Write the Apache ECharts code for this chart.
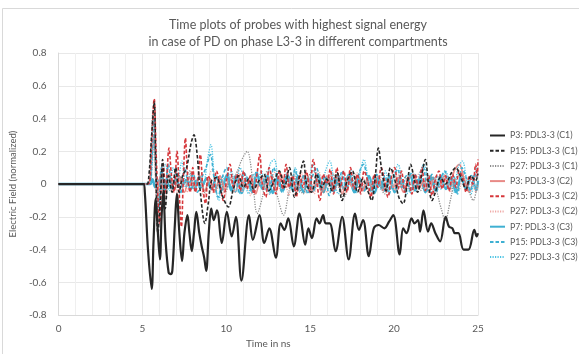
<!DOCTYPE html>
<html>
<head>
<meta charset="utf-8">
<script src="https://cdn.jsdelivr.net/npm/echarts@6/dist/echarts.min.js"></script>
<style>html,body{margin:0;padding:0;background:#fff}#c{width:579px;height:354px}</style>
</head>
<body>
<div id="c"></div>
<script>
const titleLines = ['Time plots of probes with highest signal energy', 'in case of PD on phase L3-3 in different compartments'];
const xName = 'Time in ns';
const yName = 'Electric Field (normalized)';
const names = ['P3: PDL3-3 (C1)','P15: PDL3-3 (C1)','P27: PDL3-3 (C1)','P3: PDL3-3 (C2)','P15: PDL3-3 (C2)','P27: PDL3-3 (C2)','P7: PDL3-3 (C3)','P15: PDL3-3 (C3)','P27: PDL3-3 (C3)'];

const p3c1 = [[0,0],[5.05,0],[5.14,-0.05],[5.33,-0.4],[5.55,-0.64],[5.66,-0.35],[5.79,-0.09],[5.92,-0.3],[6.04,-0.46],[6.14,-0.2],[6.24,-0.04],[6.38,-0.35],[6.56,-0.54],[6.68,-0.55],[6.78,-0.53],[6.93,-0.25],[7.05,-0.06],[7.2,-0.3],[7.36,-0.47],[7.5,-0.3],[7.68,-0.19],[7.8,-0.3],[7.94,-0.41],[8.07,-0.3],[8.21,-0.17],[8.39,-0.3],[8.53,-0.38],[8.68,-0.45],[8.8,-0.53],[8.95,-0.3],[9.1,-0.15],[9.25,-0.22],[9.44,-0.16],[9.73,-0.36],[10.03,-0.17],[10.32,-0.32],[10.57,-0.2],[10.9,-0.59],[11.35,-0.19],[11.58,-0.34],[11.98,-0.19],[12.26,-0.36],[12.56,-0.27],[12.95,-0.45],[13.24,-0.24],[13.46,-0.28],[13.69,-0.21],[14.02,-0.38],[14.36,-0.18],[14.7,-0.37],[14.89,-0.27],[15.1,-0.33],[15.38,-0.21],[15.55,-0.24],[15.77,-0.19],[15.92,-0.24],[16.16,-0.24],[16.51,-0.41],[16.9,-0.2],[17.29,-0.46],[17.67,-0.18],[17.9,-0.28],[18.15,-0.22],[18.49,-0.44],[18.79,-0.27],[19.07,-0.25],[19.42,-0.27],[19.7,-0.23],[19.95,-0.19],[20.33,-0.43],[20.54,-0.27],[20.74,-0.3],[21.04,-0.21],[21.22,-0.24],[21.42,-0.22],[21.55,-0.29],[21.75,-0.16],[22.02,-0.29],[22.21,-0.24],[22.46,-0.3],[22.74,-0.35],[23.07,-0.2],[23.27,-0.26],[23.47,-0.27],[23.62,-0.3],[23.83,-0.3],[24.14,-0.4],[24.43,-0.4],[24.78,-0.28],[24.92,-0.32],[25,-0.3]];
const p15c1 = [[0,0],[5.25,0],[5.38,0.05],[5.55,0.3],[5.7,0.5],[5.8,0.1],[5.92,-0.3],[6.06,-0.1],[6.2,0.15],[6.36,-0.15],[6.56,0.05],[6.76,-0.05],[6.98,0.1],[7.18,-0.05],[7.39,0.05],[7.63,0.1],[7.9,0.25],[8.07,0.3],[8.24,0.2],[8.45,-0.05],[8.72,-0.24],[8.92,-0.12],[9.12,0.02],[9.42,0.04],[9.72,-0.06],[10.12,-0.14],[10.42,-0.03],[10.73,0.05],[11.02,-0.02],[11.33,0.03],[11.63,-0.03],[11.94,0.02],[12.24,0.06],[12.54,-0.04],[12.85,0.02],[13.15,0.08],[13.46,-0.02],[13.76,0.1],[14.06,-0.08],[14.37,0.05],[14.6,0.14],[14.78,0.0],[15.08,-0.05],[15.38,0.06],[15.68,-0.02],[15.98,0.03],[16.29,-0.04],[16.6,0.07],[16.9,-0.1],[17.2,0.02],[17.52,0.08],[17.82,-0.05],[18.12,0.03],[18.42,-0.04],[18.66,-0.1],[18.88,0.05],[19.06,0.22],[19.27,0.08],[19.52,-0.04],[19.78,0.1],[20.03,0.03],[20.28,-0.08],[20.53,-0.12],[20.78,0.0],[20.98,0.12],[21.2,0.03],[21.4,-0.05],[21.65,0.06],[21.86,0.15],[22.05,0.0],[22.26,-0.1],[22.46,-0.05],[22.76,0.04],[23.06,0.0],[23.37,0.06],[23.67,0.1],[23.98,0.04],[24.28,-0.03],[24.58,0.05],[24.85,0.02],[25,0.06]];
const p27c1 = [[0,0],[5.32,0],[5.45,0.1],[5.63,0.45],[5.75,0.15],[5.88,-0.2],[6.02,-0.05],[6.18,0.1],[6.38,-0.1],[6.58,0.05],[6.88,-0.03],[7.19,0.05],[7.49,0.0],[7.79,0.08],[8.1,-0.02],[8.4,0.05],[8.7,-0.05],[9.0,0.02],[9.31,-0.04],[9.61,0.03],[9.92,-0.05],[10.22,0.02],[10.53,0.05],[10.93,0.15],[11.24,0.2],[11.54,0.05],[11.84,-0.18],[12.15,-0.08],[12.45,0.08],[12.76,0.05],[13.06,-0.08],[13.41,-0.19],[13.72,-0.05],[14.02,0.06],[14.27,0.0],[14.58,-0.06],[14.88,0.04],[15.18,0.08],[15.49,0.02],[15.79,-0.05],[16.1,0.03],[16.4,0.06],[16.7,-0.02],[17.0,-0.08],[17.31,0.0],[17.61,0.05],[17.92,-0.03],[18.22,0.02],[18.52,-0.04],[18.83,0.04],[19.13,0.0],[19.43,-0.06],[19.74,0.02],[20.04,0.05],[20.35,-0.02],[20.65,0.04],[20.95,-0.03],[21.26,0.02],[21.56,-0.04],[21.87,0.02],[22.17,0.05],[22.47,-0.02],[22.78,-0.14],[23.05,-0.22],[23.35,-0.1],[23.66,0.03],[23.96,0.06],[24.2,0.02],[24.45,-0.04],[24.72,-0.1],[24.88,-0.05],[25,0.02]];
const p3c2 = [[0,0],[5.35,0],[5.55,0.15],[5.7,0.3],[5.86,-0.1],[6.06,0.05],[6.27,-0.05],[6.58,0.06],[6.88,-0.04],[7.18,0.05],[7.5,-0.05],[7.8,0.04],[8.1,-0.02],[8.4,0.05],[8.71,-0.04],[9.01,0.03],[9.31,-0.05],[9.62,0.05],[9.92,-0.03],[10.22,0.04],[10.53,-0.05],[10.84,0.06],[11.14,-0.02],[11.44,0.05],[11.75,-0.06],[12.05,0.03],[12.35,-0.03],[12.66,0.05],[12.96,-0.04],[13.27,0.06],[13.57,-0.02],[13.87,0.04],[14.17,-0.05],[14.48,0.03],[14.78,0.06],[15.08,-0.04],[15.39,0.02],[15.69,-0.05],[16.0,0.05],[16.3,-0.02],[16.6,0.04],[16.91,-0.06],[17.21,0.03],[17.51,-0.02],[17.82,0.05],[18.12,-0.04],[18.42,0.02],[18.73,-0.03],[19.03,0.05],[19.34,-0.04],[19.64,0.03],[19.94,-0.02],[20.25,0.04],[20.55,-0.05],[20.86,0.03],[21.16,0.06],[21.46,-0.03],[21.77,0.02],[22.07,-0.05],[22.37,0.04],[22.68,-0.02],[22.98,0.05],[23.28,-0.04],[23.58,0.08],[23.88,0.12],[24.18,0.03],[24.48,-0.05],[24.78,0.04],[25,0.05]];
const p15c2 = [[0,0],[5.35,0],[5.52,0.2],[5.7,0.52],[5.81,0.2],[5.93,-0.1],[6.03,-0.24],[6.13,0.0],[6.24,0.12],[6.38,-0.05],[6.58,0.22],[6.73,0.05],[6.88,-0.05],[7.06,0.2],[7.19,-0.05],[7.32,-0.26],[7.44,0.05],[7.56,0.28],[7.69,0.05],[7.84,-0.05],[8.0,0.1],[8.15,-0.05],[8.3,0.02],[8.45,0.18],[8.6,-0.02],[8.76,-0.12],[8.91,0.05],[9.06,0.02],[9.21,-0.05],[9.41,0.08],[9.62,0.0],[9.82,-0.1],[10.02,0.03],[10.22,0.12],[10.42,-0.02],[10.63,0.06],[10.83,-0.04],[11.03,0.08],[11.23,-0.03],[11.44,0.05],[11.64,-0.06],[11.84,0.07],[11.99,0.18],[12.14,0.0],[12.35,-0.08],[12.55,0.1],[12.75,0.02],[12.95,-0.06],[13.16,0.08],[13.36,-0.03],[13.56,0.12],[13.76,-0.02],[13.96,0.05],[14.17,-0.08],[14.37,0.06],[14.57,-0.02],[14.77,0.08],[14.97,-0.05],[15.18,0.15],[15.38,0.02],[15.58,-0.1],[15.78,0.06],[15.99,0.0],[16.19,0.09],[16.39,-0.06],[16.59,0.1],[16.8,-0.02],[17.0,0.08],[17.2,-0.05],[17.4,0.1],[17.61,-0.03],[17.81,0.06],[18.01,-0.06],[18.21,0.08],[18.42,0.02],[18.62,-0.08],[18.82,0.06],[19.02,-0.02],[19.23,0.1],[19.43,0.02],[19.63,-0.08],[19.83,0.04],[20.03,0.1],[20.24,-0.03],[20.44,0.08],[20.64,-0.05],[20.84,0.04],[21.05,-0.06],[21.25,0.06],[21.45,-0.02],[21.65,0.1],[21.86,-0.04],[22.06,0.05],[22.26,-0.07],[22.46,0.03],[22.67,0.08],[22.87,-0.03],[23.07,0.05],[23.27,-0.04],[23.48,0.06],[23.68,-0.02],[23.88,0.08],[24.08,0.04],[24.29,-0.05],[24.49,0.05],[24.69,0.0],[24.86,0.12],[24.95,0.05],[25,0.15]];
const p27c2 = [[0,0],[5.35,0],[5.5,0.1],[5.66,0.3],[5.82,0.05],[5.97,-0.12],[6.12,0.06],[6.33,-0.08],[6.53,0.1],[6.73,-0.04],[6.94,0.07],[7.14,-0.09],[7.39,0.04],[7.65,-0.05],[7.9,0.08],[8.15,-0.03],[8.41,0.06],[8.66,-0.08],[8.91,0.03],[9.17,0.09],[9.42,-0.04],[9.67,0.05],[9.92,-0.07],[10.18,0.03],[10.43,-0.02],[10.68,0.08],[10.94,-0.05],[11.19,0.04],[11.44,-0.07],[11.7,0.06],[11.95,-0.02],[12.2,0.05],[12.46,-0.06],[12.71,0.03],[12.96,0.08],[13.22,-0.04],[13.47,0.02],[13.72,-0.07],[13.98,0.05],[14.23,-0.02],[14.48,0.07],[14.74,-0.05],[14.99,0.03],[15.24,-0.06],[15.5,0.08],[15.75,0.0],[16.0,-0.05],[16.26,0.06],[16.51,-0.03],[16.76,0.04],[17.02,-0.07],[17.27,0.05],[17.52,-0.02],[17.78,0.07],[18.03,-0.04],[18.28,0.03],[18.54,-0.06],[18.79,0.05],[19.04,-0.02],[19.3,0.06],[19.55,-0.05],[19.8,0.03],[20.06,-0.04],[20.31,0.07],[20.56,-0.02],[20.82,0.05],[21.07,-0.06],[21.32,0.03],[21.58,0.08],[21.83,-0.03],[22.08,0.04],[22.34,-0.06],[22.59,0.05],[22.84,-0.02],[23.1,0.06],[23.35,-0.05],[23.6,0.03],[23.86,-0.04],[24.11,0.06],[24.36,-0.02],[24.62,0.05],[24.87,-0.05],[25,0.0]];
const p7c3 = [[0,0],[5.45,0],[5.6,0.03],[5.76,-0.02],[5.97,0.02],[6.17,-0.03],[6.38,0.02],[6.69,-0.02],[6.99,0.03],[7.28,-0.02],[7.6,0.025],[7.88,-0.03],[8.2,0.02],[8.5,-0.02],[8.82,0.035],[9.1,-0.03],[9.43,0.045],[9.7,-0.04],[10.03,0.055],[10.3,-0.04],[10.64,0.05],[10.92,-0.055],[11.22,0.04],[11.55,-0.05],[11.82,0.06],[12.16,-0.03],[12.44,0.05],[12.77,-0.055],[13.04,0.04],[13.37,-0.04],[13.65,0.055],[13.99,-0.045],[14.26,0.05],[14.6,-0.05],[14.86,0.035],[15.2,-0.04],[15.47,0.06],[15.79,-0.05],[16.08,0.04],[16.4,-0.045],[16.69,0.05],[17.0,-0.03],[17.29,0.055],[17.62,-0.05],[17.9,0.04],[18.22,-0.04],[18.5,0.05],[18.83,-0.055],[19.12,0.03],[19.43,-0.04],[19.74,0.05],[20.03,-0.05],[20.35,0.04],[20.64,-0.03],[20.96,0.055],[21.25,-0.04],[21.56,0.04],[21.87,-0.05],[22.16,0.045],[22.48,-0.04],[22.77,0.05],[23.09,-0.03],[23.38,0.04],[23.7,-0.05],[23.99,0.04],[24.3,-0.03],[24.6,0.05],[24.9,-0.04],[25,0.02]];
const p15c3 = [[0,0],[5.4,0],[5.56,0.15],[5.68,0.4],[5.82,0.05],[5.97,-0.15],[6.13,0.1],[6.33,-0.05],[6.54,0.12],[6.8,-0.04],[7.01,0.08],[7.26,-0.06],[7.52,0.1],[7.77,0.0],[8.03,0.06],[8.28,-0.05],[8.54,0.04],[8.79,0.1],[9.05,0.18],[9.25,0.05],[9.51,-0.08],[9.76,0.04],[10.02,0.1],[10.27,-0.03],[10.53,0.05],[10.78,-0.06],[11.04,0.07],[11.29,0.02],[11.55,-0.05],[11.8,0.08],[12.06,-0.02],[12.31,0.04],[12.57,-0.06],[12.82,0.1],[13.07,0.02],[13.33,-0.05],[13.58,0.06],[13.84,-0.03],[14.09,0.09],[14.35,-0.04],[14.6,0.05],[14.86,-0.06],[15.11,0.04],[15.37,0.1],[15.62,-0.02],[15.88,0.05],[16.13,-0.07],[16.39,0.04],[16.64,0.0],[16.9,0.08],[17.15,-0.04],[17.41,0.05],[17.66,-0.06],[17.92,0.07],[18.17,0.12],[18.43,0.02],[18.68,-0.05],[18.94,0.06],[19.19,-0.03],[19.45,0.05],[19.7,-0.06],[19.96,0.04],[20.21,0.09],[20.47,-0.02],[20.72,0.05],[20.98,-0.05],[21.23,0.06],[21.49,0.0],[21.74,0.1],[22.0,-0.04],[22.25,0.06],[22.51,-0.05],[22.76,0.03],[23.02,0.08],[23.27,-0.03],[23.53,0.05],[23.78,-0.06],[24.04,0.1],[24.29,0.04],[24.55,-0.04],[24.8,0.06],[25,0.04]];
const p27c3 = [[0,0],[5.4,0],[5.56,0.1],[5.72,0.3],[5.87,0.0],[6.03,-0.1],[6.18,0.08],[6.38,0.12],[6.58,-0.04],[6.84,0.1],[7.09,0.02],[7.35,0.14],[7.6,-0.02],[7.86,0.06],[8.11,-0.04],[8.37,0.05],[8.62,0.0],[8.88,0.15],[9.08,0.24],[9.28,0.05],[9.54,-0.1],[9.79,0.05],[10.05,-0.02],[10.3,0.08],[10.56,-0.05],[10.81,0.1],[11.07,0.03],[11.32,-0.06],[11.58,0.06],[11.83,0.0],[12.09,0.08],[12.34,-0.04],[12.6,0.12],[12.85,0.15],[13.1,0.02],[13.36,-0.05],[13.61,0.07],[13.87,-0.02],[14.12,0.1],[14.38,-0.05],[14.63,0.04],[14.89,-0.03],[15.14,0.12],[15.4,0.05],[15.65,-0.04],[15.91,0.08],[16.16,0.14],[16.42,0.02],[16.67,-0.06],[16.93,0.05],[17.18,-0.02],[17.44,0.08],[17.69,-0.05],[17.95,0.06],[18.2,0.15],[18.46,0.03],[18.71,-0.05],[18.97,0.06],[19.22,-0.02],[19.48,0.08],[19.73,-0.04],[19.99,0.05],[20.24,0.12],[20.5,0.0],[20.75,-0.06],[21.01,0.07],[21.26,-0.02],[21.52,0.06],[21.77,0.12],[22.03,0.02],[22.28,-0.06],[22.54,0.05],[22.79,-0.03],[23.05,0.08],[23.3,0.02],[23.56,-0.05],[23.81,0.1],[24.07,0.14],[24.32,0.03],[24.58,-0.06],[24.8,0.05],[24.92,0.1],[25,0.06]];

const xMin = 0, xMax = 25, xStep = 5;
const yMin = -0.8, yMax = 0.8, yStep = 0.2;

const FONT = 'Lato, "Open Sans", sans-serif';
const chart = echarts.init(document.getElementById('c'), null, {renderer: 'canvas'});

const styles = [
  {color:'#262626', width:2.2, type:'solid'},
  {color:'#262626', width:1.6, type:[3.5,2]},
  {color:'#8c8c8c', width:1.3, type:[1.2,1.3]},
  {color:'#e88a86', width:1.6, type:'solid'},
  {color:'#d6373b', width:1.6, type:[3.5,2]},
  {color:'#f0a9a6', width:1.3, type:[1.2,1.3]},
  {color:'#3fb0d2', width:2.4, type:'solid'},
  {color:'#3fb0d2', width:1.6, type:[3.5,2]},
  {color:'#4cc3e3', width:1.4, type:[1.2,1.3]}
];
const dataSets = [p3c1,p15c1,p27c1,p3c2,p15c2,p27c2,p7c3,p15c3,p27c3];
const drawOrder = [6,5,3,8,7,2,4,1,0];

const series = drawOrder.map(function(i){
  return {
    name: names[i], type:'line', data: dataSets[i], showSymbol:false, symbol:'none',
    smooth: 0.35, z: 2 + drawOrder.indexOf(i),
    lineStyle: {color: styles[i].color, width: styles[i].width, type: styles[i].type},
    itemStyle: {color: styles[i].color},
    animation:false
  };
});

chart.setOption({
  animation: false,
  backgroundColor: '#fff',
  graphic: [{type:'rect', shape:{x:2.5, y:8.5, width:700, height:500}, style:{fill:'none', stroke:'#d9d9d9', lineWidth:1}, silent:true, z:-1}],
  title: {
    text: titleLines.join('\n'), left: 293, top: 11, textAlign: 'center',
    textStyle: {fontFamily: FONT, fontSize: 12.5, fontWeight: 'normal', color: '#595959', lineHeight: 17}
  },
  legend: {
    data: names, orient:'vertical', left: 489, top: 129, padding: 0,
    itemWidth: 15, itemHeight: 10, itemGap: 2.2, itemTextGap: 2,
    itemStyle: {opacity: 0, borderWidth: 0},
    textStyle: {fontFamily: FONT, fontSize: 8.8, color:'#595959', lineHeight: 13}
  },
  grid: {left: 50, right: 101, top: 53, bottom: 37, containLabel: false},
  xAxis: {
    type: 'value', min: xMin, max: xMax, interval: xStep,
    name: xName, nameLocation: 'middle', nameGap: 22,
    nameTextStyle: {fontFamily: FONT, fontSize: 10, color:'#595959'},
    axisLine: {show: true, onZero: false, lineStyle: {color:'#d9d9d9'}},
    axisTick: {show: false},
    axisLabel: {fontFamily: FONT, fontSize: 10, color:'#595959', margin: 9},
    splitLine: {show: true, lineStyle: {color:'#e8e8e8', width:1}},
    minorTick: {show: false, splitNumber: 5},
    minorSplitLine: {show: true, lineStyle: {color:'#efefef', width:1}}
  },
  yAxis: {
    type: 'value', min: yMin, max: yMax, interval: yStep,
    name: yName, nameLocation: 'middle', nameGap: 26,
    nameTextStyle: {fontFamily: FONT, fontSize: 9.5, color:'#595959'},
    axisLine: {show: true, lineStyle: {color:'#d9d9d9'}},
    axisTick: {show: false},
    axisLabel: {fontFamily: FONT, fontSize: 10, color:'#595959', margin: 12,
      formatter: function(v){ return (Math.round(v*10)/10).toString(); }},
    splitLine: {show: true, lineStyle: {color:'#e8e8e8', width:1}}
  },
  series: series
});
</script>
</body>
</html>
